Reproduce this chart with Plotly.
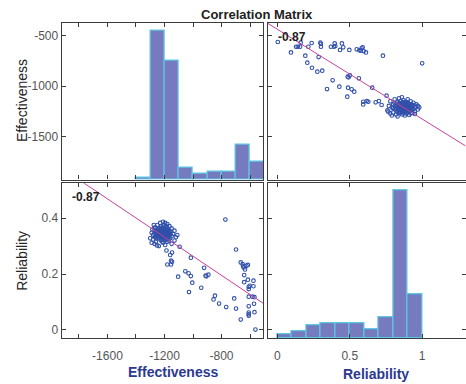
import plotly.graph_objects as go

# ---------------- data ----------------
eff_bin_edges = [-1400, -1300, -1200, -1100, -1000, -900, -800, -700, -600, -500]
eff_counts = [1, 99, 79, 8, 4, 5, 5, 23, 12]
rel_bin_edges = [0.0, 0.1, 0.2, 0.3, 0.4, 0.5, 0.6, 0.7, 0.8, 0.9, 1.0]
rel_counts = [3, 6, 11, 12, 12, 12, 7, 17, 121, 36]

# scattered observations (outside the dense cluster)
rel_outer = [0.003, 0.094, 0.129, 0.141, 0.157, 0.161, 0.193, 0.207, 0.214, 0.237,
             0.239, 0.276, 0.285, 0.297, 0.301, 0.301, 0.310, 0.343, 0.370, 0.382,
             0.391, 0.396, 0.400, 0.428, 0.433, 0.446, 0.455, 0.483, 0.488, 0.492,
             0.497, 0.501, 0.513, 0.531, 0.548, 0.563, 0.566, 0.577, 0.582, 0.589,
             0.596, 0.612, 0.655, 0.729, 1.000, 0.486, 0.593, 0.593, 0.617, 0.628,
             0.679, 0.701, 0.720, 0.754, 0.766]
eff_outer = [-562, -665, -609, -609, -609, -569, -698, -767, -609, -572,
             -817, -856, -711, -569, -582, -609, -846, -1028, -609, -942,
             -609, -576, -602, -1005, -641, -576, -615, -1104, -1015, -912,
             -641, -892, -1031, -1054, -635, -922, -645, -648, -625, -615,
             -652, -665, -1015, -698, -773, -906, -1154, -1180, -1147, -1154,
             -1160, -1147, -1186, -1094, -1252]

# dense cluster of observations
rel_cluster = [0.78, 0.79, 0.80, 0.80, 0.81, 0.81, 0.82, 0.82, 0.83, 0.83, 0.84, 0.84, 0.84,
               0.85, 0.85, 0.85, 0.86, 0.86, 0.86, 0.87, 0.87, 0.87, 0.88, 0.88, 0.88, 0.89,
               0.89, 0.89, 0.90, 0.90, 0.90, 0.91, 0.91, 0.92, 0.92, 0.92, 0.93, 0.93, 0.94,
               0.94, 0.95, 0.95, 0.96, 0.97, 0.98, 0.79, 0.83, 0.86, 0.88, 0.91, 0.84, 0.86,
               0.87, 0.89, 0.90, 0.82, 0.85, 0.88, 0.91, 0.93, 0.80, 0.77, 0.76, 0.78, 0.95,
               0.97, 0.87, 0.84, 0.90, 0.92, 0.86, 0.83, 0.89, 0.81, 0.94,
               0.82, 0.83, 0.84, 0.85, 0.86, 0.87, 0.88, 0.89, 0.90, 0.91, 0.92, 0.85, 0.86,
               0.87, 0.88, 0.89, 0.90, 0.84, 0.87, 0.89, 0.83, 0.86, 0.88, 0.91, 0.85, 0.87,
               0.90, 0.92, 0.84, 0.88]
eff_cluster = [-1150, -1210, -1180, -1260, -1130, -1225, -1195, -1280, -1160, -1240, -1120, -1205, -1265,
               -1175, -1230, -1150, -1190, -1250, -1215, -1140, -1200, -1270, -1170, -1225, -1185, -1155,
               -1245, -1210, -1130, -1195, -1260, -1175, -1220, -1150, -1240, -1200, -1185, -1265, -1165,
               -1225, -1205, -1250, -1180, -1230, -1210, -1290, -1300, -1110, -1290, -1285, -1180, -1165,
               -1235, -1180, -1230, -1220, -1205, -1205, -1195, -1215, -1215, -1195, -1240, -1270, -1275,
               -1195, -1160, -1250, -1165, -1270, -1280, -1195, -1270, -1170, -1190,
               -1185, -1210, -1230, -1195, -1225, -1215, -1240, -1195, -1210, -1245, -1180, -1260, -1200,
               -1180, -1255, -1225, -1245, -1195, -1250, -1230, -1255, -1235, -1165, -1230, -1215, -1190,
               -1180, -1220, -1170, -1215]

reliability = rel_outer + rel_cluster
effectiveness = eff_outer + eff_cluster

corr_label = "-0.87"
fit_eff_on_rel = (-436.0, -889.0)      # intercept, slope
fit_rel_on_eff = (-0.199, -0.000867)   # intercept, slope

eff_ticks = [-1800, -1600, -1400, -1200, -1000, -800, -600]
eff_ticktext = ["", "-1600", "", "-1200", "", "-800", ""]
eff_yticks = [-1500, -1000, -500]
eff_yticktext = ["-1500", "-1000", "-500"]
rel_xticks = [0, 0.5, 1]
rel_xticktext = ["0", "0.5", "1"]
rel_yticks = [0, 0.2, 0.4]
rel_yticktext = ["0", "0.2", "0.4"]

# ---------------- styling ----------------
W, H = 466, 384
FONT = "Liberation Sans, Arial, Helvetica, sans-serif"
FRAME = "#3c3c3c"
TICKCOL = "#555555"
BAR_FILL = "rgb(118,122,190)"
BAR_EDGE = "rgb(92,200,228)"
MARK = "#3050aa"
FIT = "#c8409c"
XLAB = "#2b3990"

def px(x):
    return x / W

def py(y):
    return 1 - y / H

col_l = [px(61.7), px(263.0)]
col_r = [px(267.5), px(465.6)]
row_t = [py(179.5), py(22.7)]
row_b = [py(338.3), py(183.3)]

eff_xrange = [-1921, -509]
eff_yrange = [-1924, -371]
rel_xrange = [-0.068, 1.30]
rel_yrange = [-0.030, 0.525]
rel_data_range = [-0.076, 1.329]

base = dict(showline=True, linecolor=FRAME, linewidth=1.2, mirror="ticks",
            ticks="inside", ticklen=4, tickwidth=1, tickcolor=FRAME,
            showgrid=False, zeroline=False, fixedrange=True,
            tickfont=dict(family=FONT, size=12, color=TICKCOL))

fig = go.Figure()

# empty anchors so that every labelled panel axis pair is a real subplot
for xa, ya in [("x", "y"), ("x3", "y3"), ("x4", "y4")]:
    fig.add_trace(go.Scatter(x=[None], y=[None], xaxis=xa, yaxis=ya, mode="markers",
                             hoverinfo="skip", showlegend=False))

# top-left: histogram of effectiveness
fig.add_trace(go.Bar(
    x=eff_bin_edges[:-1], y=eff_counts,
    width=[eff_bin_edges[i + 1] - eff_bin_edges[i] for i in range(len(eff_counts))],
    offset=0, marker=dict(color=BAR_FILL, line=dict(color=BAR_EDGE, width=1.2)),
    xaxis="x", yaxis="y5", showlegend=False))

marker_style = dict(symbol="circle-open", size=3.6, color=MARK, line=dict(width=1.1))

# top-right: reliability (x) vs effectiveness (y)
fig.add_trace(go.Scatter(
    x=reliability, y=effectiveness, mode="markers", marker=marker_style,
    xaxis="x2", yaxis="y2", showlegend=False))
fig.add_trace(go.Scatter(
    x=rel_xrange, y=[fit_eff_on_rel[0] + fit_eff_on_rel[1] * r for r in rel_xrange],
    mode="lines", line=dict(color=FIT, width=1),
    xaxis="x2", yaxis="y2", showlegend=False))

# bottom-left: effectiveness (x) vs reliability (y)
fig.add_trace(go.Scatter(
    x=effectiveness, y=reliability, mode="markers", marker=marker_style,
    xaxis="x3", yaxis="y6", showlegend=False))
fig.add_trace(go.Scatter(
    x=eff_xrange, y=[fit_rel_on_eff[0] + fit_rel_on_eff[1] * e for e in eff_xrange],
    mode="lines", line=dict(color=FIT, width=1),
    xaxis="x3", yaxis="y6", showlegend=False))

# bottom-right: histogram of reliability
fig.add_trace(go.Bar(
    x=rel_bin_edges[:-1], y=rel_counts,
    width=[rel_bin_edges[i + 1] - rel_bin_edges[i] for i in range(len(rel_counts))],
    offset=0, marker=dict(color=BAR_FILL, line=dict(color=BAR_EDGE, width=1.2)),
    xaxis="x4", yaxis="y7", showlegend=False))

fig.update_layout(
    width=W, height=H, margin=dict(l=0, r=0, t=0, b=0),
    paper_bgcolor="white", plot_bgcolor="white", bargap=0,
    xaxis=dict(base, domain=col_l, anchor="y", range=eff_xrange,
               tickvals=eff_ticks, showticklabels=False),
    yaxis=dict(base, domain=row_t, anchor="x", range=eff_yrange,
               tickvals=eff_yticks, ticktext=eff_yticktext),
    xaxis2=dict(base, domain=col_r, anchor="y2", range=rel_xrange,
                tickvals=rel_xticks, showticklabels=False),
    yaxis2=dict(base, domain=row_t, anchor="x2", range=eff_yrange,
                tickvals=eff_yticks, showticklabels=False),
    xaxis3=dict(base, domain=col_l, anchor="y3", range=eff_xrange,
                tickvals=eff_ticks, ticktext=eff_ticktext, ticklabelstandoff=6),
    yaxis3=dict(base, domain=row_b, anchor="x3", range=rel_yrange,
                tickvals=rel_yticks, ticktext=rel_yticktext),
    xaxis4=dict(base, domain=col_r, anchor="y4", range=rel_xrange,
                tickvals=rel_xticks, ticktext=rel_xticktext, ticklabelstandoff=6),
    yaxis4=dict(base, domain=row_b, anchor="x4", range=rel_yrange,
                tickvals=rel_yticks, showticklabels=False),
    yaxis5=dict(overlaying="y", anchor="x", domain=row_t, range=[0, 104.3], visible=False, fixedrange=True),
    yaxis6=dict(overlaying="y3", anchor="x3", domain=row_b, range=rel_data_range, visible=False, fixedrange=True),
    yaxis7=dict(overlaying="y4", anchor="x4", domain=row_b, range=[0, 126.4], visible=False, fixedrange=True),
)

ann = [
    dict(text="<b>Correlation Matrix</b>", x=px(256.7), y=py(14), font=dict(size=13, color="#222222")),
    dict(text="Effectiveness", x=px(22), y=py(101), textangle=-90, font=dict(size=14, color="#262626")),
    dict(text="Reliability", x=px(22), y=py(260.8), textangle=-90, font=dict(size=14, color="#262626")),
    dict(text="<b>Effectiveness</b>", x=px(172.8), y=py(372), font=dict(size=14, color=XLAB)),
    dict(text="<b>Reliability</b>", x=px(375.8), y=py(373.5), font=dict(size=14, color=XLAB)),
    dict(text="<b>" + corr_label + "</b>", x=px(292.2), y=py(36.7), font=dict(size=12, color="#222222")),
    dict(text="<b>" + corr_label + "</b>", x=px(86.3), y=py(196.7), font=dict(size=12, color="#222222")),
]
for a in ann:
    a.update(xref="paper", yref="paper", showarrow=False, xanchor="center", yanchor="middle")
    a["font"]["family"] = FONT
fig.update_layout(annotations=ann)

fig.write_html("out.html", config={"displayModeBar": False},
               post_script="document.body.style.margin='0';document.body.style.overflow='hidden';")
